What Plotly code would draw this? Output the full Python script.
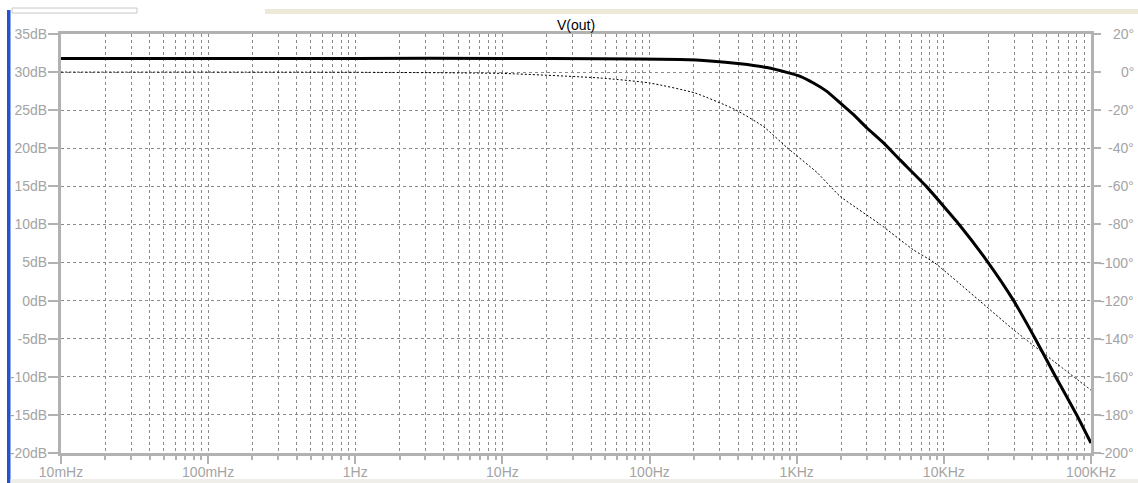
import plotly.graph_objects as go

# ---- data ----
mag_freq = [0.01, 0.1, 1, 10, 46, 161, 258, 413, 627, 857, 1055, 1300, 1603, 1976, 2434,
            3000, 3890, 5056, 7600, 12700, 20000, 29800, 41800, 57500, 80000, 100000]
mag_db = [31.8, 31.8, 31.8, 31.8, 31.75, 31.65, 31.47, 31.1, 30.6, 29.96, 29.44, 28.57,
          27.47, 25.95, 24.41, 22.66, 20.7, 18.44, 15.0, 10.0, 5.0, 0.0, -5.0, -10.0,
          -15.0, -18.7]

ph_freq = [0.01, 0.1, 1, 10, 46, 100, 204, 382, 592, 861, 1377, 1690, 1977, 3700, 6200,
           8600, 29800, 100000]
ph_deg = [0, 0, -0.1, -0.7, -3.1, -5.7, -11.0, -19.7, -28.5, -39.7, -52.8, -60.0, -65.3,
          -80.0, -93.3, -100.0, -135.3, -167.0]

x_tickvals = [0.01, 0.1, 1, 10, 100, 1000, 10000, 100000]
x_ticktext = ["10mHz", "100mHz", "1Hz", "10Hz", "100Hz", "1KHz", "10KHz", "100KHz"]
db_ticks = [-20, -15, -10, -5, 0, 5, 10, 15, 20, 25, 30, 35]
deg_ticks = [-200, -180, -160, -140, -120, -100, -80, -60, -40, -20, 0, 20]

# minor (2..9 per decade) grid positions
minor_vals = [d * m for d in x_tickvals[:-1] for m in range(2, 10)]

AX = "#b2b2b2"
GRID = "#8a8a8a"
LBL = "#a4a4a4"
FONT = "Liberation Sans"
FS = 14

W, H = 1138, 483
L, R, T, B = 61, 1091, 34, 453

fig = go.Figure()
fig.add_trace(go.Scatter(x=mag_freq, y=mag_db, mode="lines",
                         line=dict(color="black", width=3, shape="spline", smoothing=0.4),
                         yaxis="y", showlegend=False))
fig.add_trace(go.Scatter(x=ph_freq, y=ph_deg, mode="lines",
                         line=dict(color="black", width=1, dash="2px,2px",
                                   shape="spline", smoothing=0.5),
                         yaxis="y2", showlegend=False))

def px2paper_x(px):
    return (px - L) / (R - L)

def px2paper_y(py):
    return (B - py) / (B - T)

annotations = []
for v in deg_ticks:
    annotations.append(dict(x=px2paper_x(1136), xref="paper", y=v, yref="y2",
                            text=f"{v}°", showarrow=False, xanchor="right",
                            yanchor="middle", font=dict(family=FONT, size=FS, color=LBL)))

shapes = [
    # left blue window edge
    dict(type="rect", xref="paper", yref="paper", x0=px2paper_x(7), x1=px2paper_x(10.5),
         y0=px2paper_y(483), y1=px2paper_y(10), fillcolor="#2552d0", line=dict(width=0),
         layer="below"),
    # top strip
    dict(type="rect", xref="paper", yref="paper", x0=px2paper_x(265), x1=px2paper_x(1138),
         y0=px2paper_y(14), y1=px2paper_y(9), fillcolor="#ece9d8", line=dict(width=0)),
    dict(type="rect", xref="paper", yref="paper", x0=px2paper_x(12), x1=px2paper_x(137),
         y0=px2paper_y(13), y1=px2paper_y(8), fillcolor="#ffffff",
         line=dict(width=1, color="#c8c8c8")),
    # bottom strip
    dict(type="rect", xref="paper", yref="paper", x0=px2paper_x(10.5), x1=px2paper_x(1138),
         y0=px2paper_y(483), y1=px2paper_y(479), fillcolor="#efeee8", line=dict(width=0),
         layer="below"),
]

fig.update_layout(
    width=W, height=H, autosize=False,
    margin=dict(l=L, r=W - R, t=T, b=H - B, pad=0, autoexpand=False),
    paper_bgcolor="white", plot_bgcolor="white",
    font=dict(family=FONT, size=FS, color=LBL),
    title=dict(text="V(out)", x=576 / W, xanchor="center", y=(H - 25) / H, yanchor="middle",
               yref="container", automargin=False,
               font=dict(family=FONT, size=FS, color="black")),
    xaxis=dict(type="log", range=[-2, 5], tickmode="array", tickvals=x_tickvals,
               ticktext=x_ticktext, showgrid=True, gridcolor=GRID, gridwidth=1,
               griddash="3px,3px", ticks="outside", ticklen=8, tickwidth=2, tickcolor=AX,
               showline=True, linewidth=3, linecolor=AX, mirror=True, zeroline=False,
               automargin=False, ticklabelstandoff=-4,
               tickfont=dict(family=FONT, size=FS, color=LBL),
               minor=dict(tickmode="array", tickvals=minor_vals, ticks="outside", ticklen=4,
                          tickwidth=2, tickcolor=AX, showgrid=True, gridcolor=GRID,
                          gridwidth=1, griddash="3px,3px")),
    yaxis=dict(range=[-20, 35], tickmode="array", tickvals=db_ticks,
               ticktext=[f"{v}dB" for v in db_ticks], showgrid=True, gridcolor=GRID,
               gridwidth=1, griddash="3px,3px", ticks="outside", ticklen=10, tickwidth=2,
               tickcolor=AX, showline=True, linewidth=3, linecolor=AX, mirror=True,
               zeroline=False, automargin=False, ticklabelstandoff=-2,
               tickfont=dict(family=FONT, size=FS, color=LBL)),
    yaxis2=dict(range=[-200, 20], overlaying="y", side="right", tickmode="array",
                tickvals=deg_ticks, showticklabels=False, showgrid=False, ticks="outside",
                ticklen=9, tickwidth=2, tickcolor=AX, showline=False, zeroline=False,
                automargin=False),
    annotations=annotations,
    shapes=shapes,
)

fig.write_html("out.html")
